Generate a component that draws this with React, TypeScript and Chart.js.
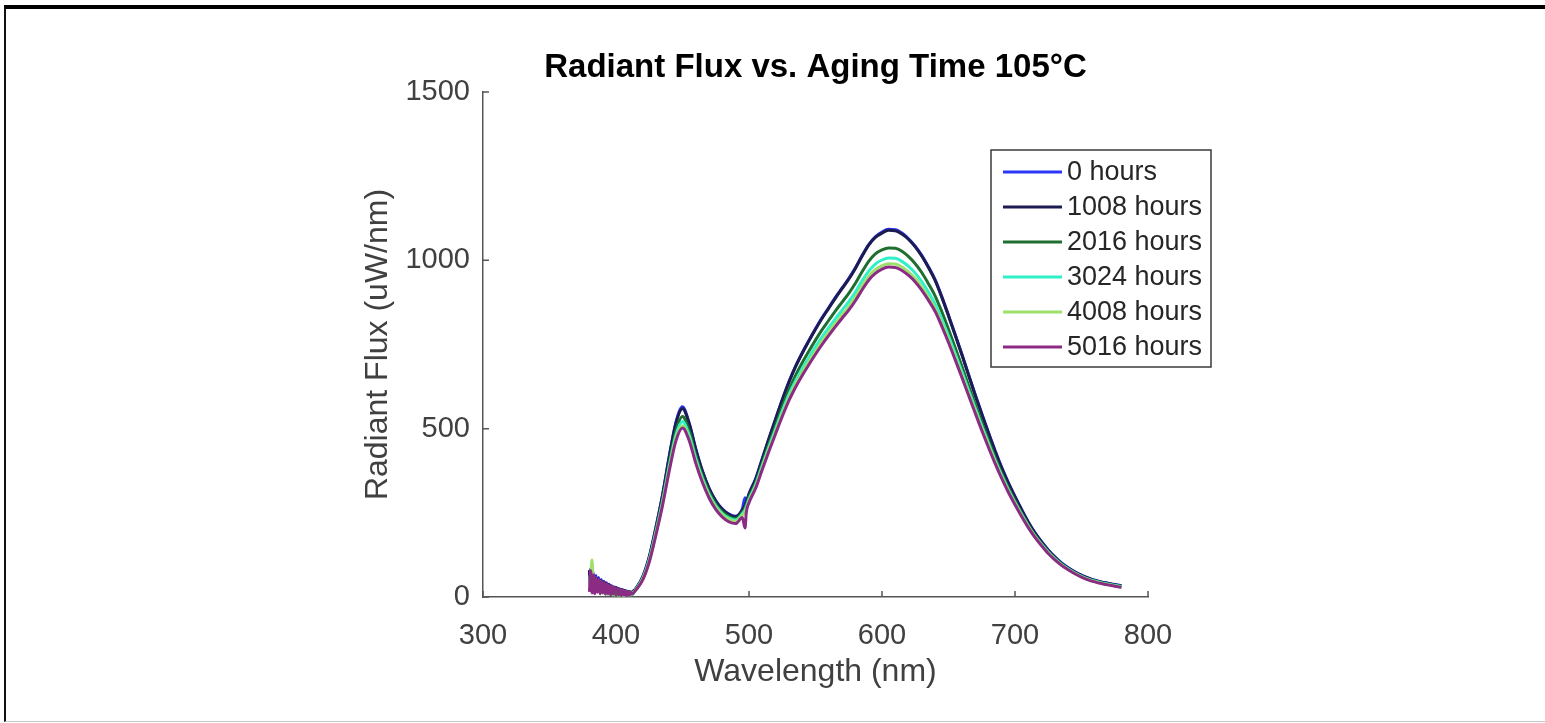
import React, { useEffect, useRef } from 'react';
import { Chart, registerables } from 'chart.js';

Chart.register(...registerables);

const FONT = "'Liberation Sans', Arial, Helvetica, sans-serif";

const chartTitle = 'Radiant Flux vs. Aging Time 105°C';
const xAxisTitle = 'Wavelength (nm)';
const yAxisTitle = 'Radiant Flux (uW/nm)';
const xTickValues = [300, 400, 500, 600, 700, 800];
const yTickValues = [0, 500, 1000, 1500];

const seriesLabels = ['0 hours', '1008 hours', '2016 hours', '3024 hours', '4008 hours', '5016 hours'];
const seriesColors = ['#2b35f5', '#1c1c50', '#1e6e30', '#30f0c8', '#9ee06a', '#8b2b84'];

const wavelengths = [
  380, 381, 382, 383, 384, 385, 386, 387, 388, 389, 390, 391, 392, 393, 394, 395, 396, 397, 398, 399,
  400, 401, 402, 403, 404, 405, 406, 407, 408, 409, 410, 411, 412,
  415, 420, 425, 430, 435, 440, 445, 450, 455, 460, 465, 470, 475, 480, 485, 490, 495, 497, 498,
  500, 505, 510, 515, 520, 525, 530, 535, 540, 545, 550, 555, 560, 565, 570, 575, 580, 585, 590, 595,
  600, 605, 610, 615, 620, 625, 630, 635, 640, 645, 650, 655, 660, 665, 670, 675, 680, 685, 690, 695,
  700, 705, 710, 715, 720, 725, 730, 735, 740, 745, 750, 755, 760, 765, 770, 775, 780,
];

const hours0 = [
  60, 85, 35, 72, 28, 64, 22, 58, 20, 52, 16, 47, 14, 42, 12, 38, 10, 33, 9, 30,
  7, 27, 8, 24, 6, 22, 7, 19, 5, 17, 8, 15, 10,
  26, 60, 120, 207, 304, 417, 518, 565, 517, 440, 374, 323, 286, 261, 246, 240, 262, 295, 280,
  307, 351, 411, 471, 529, 586, 639, 685, 725, 762, 797, 830, 860, 890, 918, 946, 978, 1014, 1047, 1070,
  1084, 1092, 1091, 1081, 1064, 1042, 1014, 980, 942, 892, 837, 780, 722, 662, 602, 545, 489, 435, 385, 340,
  299, 260, 223, 191, 164, 140, 119, 101, 87, 75, 65, 57, 50, 45, 41, 37, 34,
];

const hours1008 = [
  80, 30, 70, 25, 62, 20, 55, 18, 50, 15, 46, 14, 42, 12, 38, 10, 34, 12, 30, 8,
  28, 10, 25, 6, 22, 8, 20, 5, 18, 8, 16, 10, 14,
  25, 58, 118, 205, 302, 415, 515, 560, 515, 438, 373, 322, 285, 260, 245, 238, 258, 272, 282,
  305, 350, 410, 470, 528, 585, 638, 684, 724, 760, 795, 828, 858, 888, 916, 944, 976, 1012, 1045, 1068,
  1081, 1089, 1088, 1078, 1062, 1040, 1012, 978, 940, 890, 835, 778, 720, 660, 600, 543, 487, 433, 383, 338,
  297, 258, 222, 190, 163, 139, 118, 100, 86, 74, 64, 56, 49, 44, 40, 36, 33,
];

const hours2016 = [
  50, 72, 28, 62, 22, 55, 18, 50, 15, 45, 13, 40, 11, 37, 9, 33, 8, 30, 7, 27,
  6, 24, 5, 21, 6, 19, 5, 17, 4, 15, 6, 13, 8,
  24, 56, 113, 197, 290, 398, 493, 536, 494, 421, 360, 312, 277, 253, 239, 233, 252, 265, 275,
  297, 340, 398, 455, 510, 565, 615, 658, 696, 730, 763, 794, 822, 850, 876, 902, 932, 966, 997, 1019,
  1031, 1037, 1036, 1027, 1011, 990, 963, 930, 894, 847, 795, 741, 686, 629, 573, 519, 466, 415, 368, 325,
  286, 249, 214, 184, 158, 135, 115, 98, 84, 72, 62, 54, 48, 43, 39, 35, 32,
];

const hours3024 = [
  45, 68, 25, 60, 20, 52, 17, 47, 14, 43, 12, 38, 10, 35, 8, 31, 7, 28, 6, 25,
  5, 22, 6, 20, 4, 18, 5, 16, 4, 14, 5, 12, 7,
  23, 54, 110, 192, 283, 388, 480, 521, 481, 411, 352, 305, 271, 248, 234, 229, 247, 258, 268,
  290, 333, 390, 446, 499, 552, 601, 642, 678, 711, 743, 773, 800, 827, 852, 877, 906, 939, 968, 989,
  1001, 1007, 1006, 997, 982, 962, 936, 905, 870, 825, 775, 723, 670, 615, 561, 508, 457, 407, 361, 319,
  281, 245, 211, 181, 156, 133, 113, 96, 83, 71, 61, 53, 47, 42, 38, 34, 31,
];

const hours4008 = [
  40, 62, 110, 30, 58, 18, 50, 15, 45, 13, 40, 11, 36, 9, 32, 8, 29, 7, 26, 6,
  23, 5, 21, 5, 19, 4, 17, 4, 15, 5, 13, 6, 10,
  22, 52, 107, 188, 277, 380, 470, 509, 471, 403, 346, 300, 266, 244, 230, 225, 243, 252, 262,
  285, 328, 384, 439, 491, 543, 591, 631, 667, 699, 730, 760, 787, 813, 838, 862, 891, 923, 952, 972,
  984, 990, 989, 980, 965, 946, 920, 890, 856, 812, 763, 712, 660, 606, 553, 501, 451, 402, 357, 315,
  278, 242, 209, 179, 154, 131, 112, 95, 82, 70, 60, 52, 46, 41, 37, 33, 30,
];

const hours5016 = [
  15, 78, 12, 65, 10, 58, 14, 52, 9, 47, 12, 43, 8, 39, 10, 35, 6, 31, 9, 28,
  5, 25, 7, 22, 4, 20, 6, 18, 3, 16, 5, 14, 9,
  21, 50, 104, 184, 272, 374, 463, 502, 465, 397, 340, 294, 260, 237, 223, 218, 236, 205, 252,
  280, 323, 379, 433, 485, 536, 583, 623, 658, 690, 721, 750, 777, 803, 828, 852, 880, 912, 941, 961,
  974, 980, 979, 970, 955, 936, 911, 881, 848, 804, 756, 705, 653, 600, 547, 495, 445, 397, 352, 311,
  274, 239, 206, 177, 152, 129, 110, 94, 81, 69, 59, 51, 45, 40, 36, 32, 29,
];

const seriesValues = [hours0, hours1008, hours2016, hours3024, hours4008, hours5016];

const inwardTicks = {
  id: 'inwardTicks',
  afterDraw(chart: any) {
    const { ctx, chartArea, scales } = chart;
    const len = 6;
    ctx.save();
    ctx.strokeStyle = '#555';
    ctx.lineWidth = 1.5;
    ctx.beginPath();
    scales.x.ticks.forEach((t: any) => {
      const px = scales.x.getPixelForValue(t.value);
      ctx.moveTo(px, chartArea.bottom);
      ctx.lineTo(px, chartArea.bottom - len);
    });
    scales.y.ticks.forEach((t: any) => {
      const py = scales.y.getPixelForValue(t.value);
      ctx.moveTo(chartArea.left, py);
      ctx.lineTo(chartArea.left + len, py);
    });
    ctx.stroke();
    ctx.restore();
  },
};

const boxLegend = {
  id: 'boxLegend',
  afterDraw(chart: any) {
    const { ctx } = chart;
    const left = 991;
    const top = 150;
    const width = 220;
    const height = 217;
    const rowStart = 172;
    const rowStep = 35;
    ctx.save();
    ctx.fillStyle = '#ffffff';
    ctx.fillRect(left, top, width, height);
    ctx.strokeStyle = '#3a3a3a';
    ctx.lineWidth = 1.5;
    ctx.strokeRect(left, top, width, height);
    ctx.font = `27px ${FONT}`;
    ctx.textBaseline = 'middle';
    ctx.textAlign = 'left';
    chart.data.datasets.forEach((ds: any, i: number) => {
      const y = rowStart + i * rowStep;
      ctx.strokeStyle = ds.borderColor;
      ctx.lineWidth = 3;
      ctx.beginPath();
      ctx.moveTo(1003, y);
      ctx.lineTo(1062, y);
      ctx.stroke();
      ctx.fillStyle = '#262626';
      ctx.fillText(ds.label, 1067, y + 1);
    });
    ctx.restore();
  },
};

export default function App() {
  const canvasRef = useRef<HTMLCanvasElement | null>(null);

  useEffect(() => {
    if (!canvasRef.current) return;
    const chart = new Chart(canvasRef.current, {
      type: 'line',
      data: {
        labels: wavelengths,
        datasets: seriesValues.map((vals, i) => ({
          label: seriesLabels[i],
          data: vals.map((v, j) => ({ x: wavelengths[j], y: v })),
          borderColor: seriesColors[i],
          backgroundColor: seriesColors[i],
          borderWidth: 3,
          pointRadius: 0,
          fill: false,
          cubicInterpolationMode: 'monotone' as const,
          order: seriesValues.length - 1 - i,
        })),
      },
      options: {
        responsive: false,
        animation: false,
        events: [],
        layout: { padding: { left: 359, right: 397, top: 0, bottom: 32 } },
        plugins: {
          legend: { display: false },
          tooltip: { enabled: false },
          title: {
            display: true,
            text: chartTitle,
            fullSize: false,
            color: '#000000',
            font: { family: FONT, size: 33, weight: 'bold' },
            padding: { top: 48.2, bottom: 4.2 },
          },
        },
        scales: {
          x: {
            type: 'linear',
            min: 300,
            max: 800,
            afterBuildTicks: (axis: any) => {
              axis.ticks = xTickValues.map((v) => ({ value: v }));
            },
            afterFit: (axis: any) => {
              axis.height = 94;
            },
            grid: { display: false, drawTicks: false },
            border: { display: true, color: '#555555', width: 1.5 },
            ticks: {
              color: '#404040',
              font: { family: FONT, size: 29 },
              padding: 22,
              maxRotation: 0,
              autoSkip: false,
              callback: (v: any) => String(v),
            },
            title: {
              display: true,
              text: xAxisTitle,
              color: '#404040',
              font: { family: FONT, size: 32 },
              padding: 0,
            },
          },
          y: {
            type: 'linear',
            min: 0,
            max: 1500,
            afterBuildTicks: (axis: any) => {
              axis.ticks = yTickValues.map((v) => ({ value: v }));
            },
            afterFit: (axis: any) => {
              axis.width = 124;
            },
            grid: { display: false, drawTicks: false },
            border: { display: true, color: '#555555', width: 1.5 },
            ticks: {
              color: '#404040',
              font: { family: FONT, size: 29 },
              padding: 13,
              autoSkip: false,
              callback: (v: any) => String(v),
            },
            title: {
              display: true,
              text: yAxisTitle,
              color: '#404040',
              font: { family: FONT, size: 32 },
              padding: 0,
            },
          },
        },
      },
      plugins: [inwardTicks, boxLegend],
    });
    return () => chart.destroy();
  }, []);

  return (
    <div
      style={{
        position: 'absolute',
        left: 0,
        top: 0,
        width: 1545,
        height: 723,
        overflow: 'hidden',
        background: '#ffffff',
      }}
    >
      <canvas ref={canvasRef} width={1545} height={723} style={{ position: 'absolute', left: 0, top: 0 }} />
      <div
        style={{
          position: 'absolute',
          left: 4,
          top: 5,
          width: 1600,
          height: 717,
          boxSizing: 'border-box',
          borderTop: '4px solid #000',
          borderLeft: '2px solid #111',
          borderBottom: '1px solid #c8c8c8',
          pointerEvents: 'none',
        }}
      />
    </div>
  );
}
